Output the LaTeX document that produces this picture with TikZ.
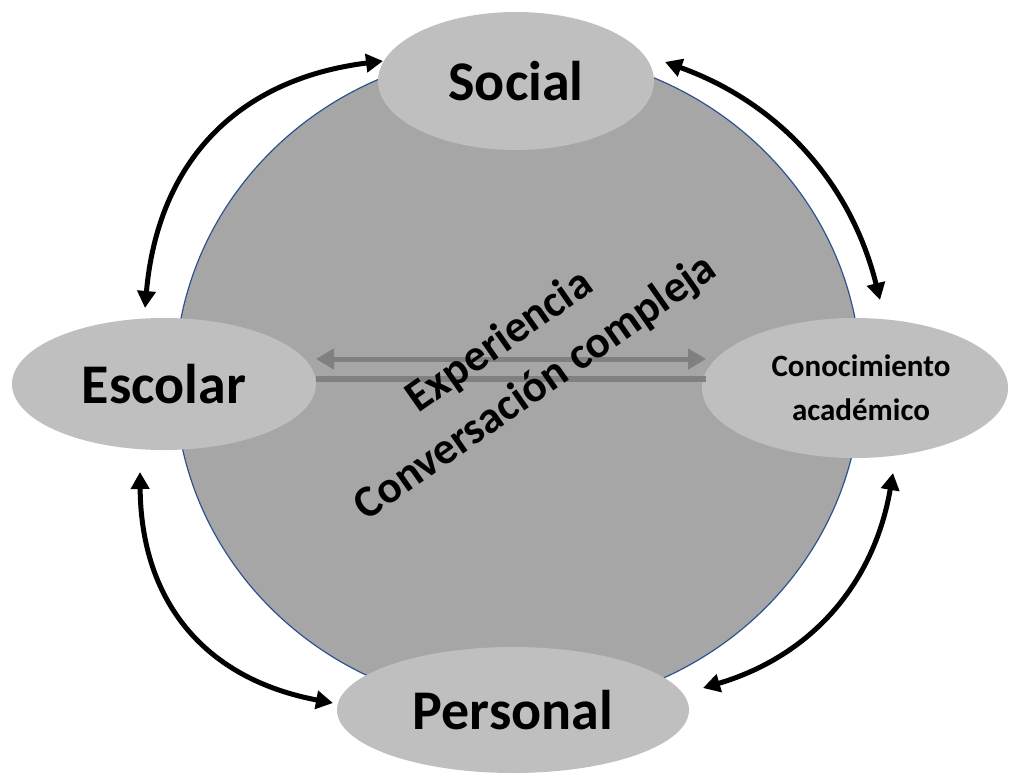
\documentclass[tikz,border=0pt]{standalone}
\usepackage{fontspec}
\setmainfont{Carlito}
\usetikzlibrary{arrows.meta,shapes.geometric}
\definecolor{hubfill}{RGB}{166,166,166}
\definecolor{hubline}{RGB}{47,82,143}
\definecolor{bubblefill}{RGB}{191,191,191}
\definecolor{linkgray}{RGB}{128,128,128}
\begin{document}
\begin{tikzpicture}[x=1pt,y=-1pt,
  bubble/.style={ellipse,fill=bubblefill,inner sep=0pt,align=center},
  bigtext/.style={font=\fontsize{56}{60}\selectfont\bfseries},
  smalltext/.style={font=\fontsize{31}{44}\selectfont\bfseries},
  diagtext/.style={font=\fontsize{45}{50}\selectfont\bfseries,rotate=35,anchor=base,inner sep=0pt},
  cycarrow/.style={line width=5pt,{Triangle[length=17pt,width=18pt]}-{Triangle[length=17pt,width=18pt]}},
  grayarrow/.style={draw=linkgray,line width=5pt,{Triangle[length=18pt,width=20pt]}-{Triangle[length=18pt,width=20pt]}},
  grayline/.style={draw=linkgray,line width=6pt}]
\useasboundingbox (0,0) rectangle (1011,773);
% central circle
\path[fill=hubfill,draw=hubline,line width=1.2pt] (518,380) ellipse [x radius=343,y radius=329];
% bubbles
\node[bubble,bigtext,minimum width=276pt,minimum height=138pt] (social) at (516,81) {Social};
\node[bubble,bigtext,minimum width=304pt,minimum height=132pt] (escolar) at (164,384) {Escolar};
\node[bubble,smalltext,minimum width=306pt,minimum height=140pt] (conoc) at (855,388) {\hspace*{12pt}Conocimiento\\\hspace*{12pt}académico};
\node[bubble,bigtext,minimum width=352pt,minimum height=126pt] (personal) at (513,710) {Personal};
% gray links
\coordinate (gA1) at (316,359);
\coordinate (gA2) at (706,359);
\coordinate (gB1) at (316,379);
\coordinate (gB2) at (706,379);
\draw[grayarrow] (gA1) -- (gA2);
\draw[grayline] (gB1) -- (gB2);
% diagonal texts
\node[diagtext] (exp) at (507,352) {Experiencia};
\node[diagtext] (conv) at (543,398) {Conversación compleja};
% cycle arrows
\coordinate (a1s) at (383,61);
\coordinate (a1e) at (145,308);
\coordinate (a2s) at (665,62);
\coordinate (a2e) at (880,300);
\coordinate (a3s) at (140,472);
\coordinate (a3e) at (333,703);
\coordinate (a4s) at (893,473);
\coordinate (a4e) at (703,688);
\draw[cycarrow] (a1s) .. controls (238,79) and (158,161) .. (a1e);
\draw[cycarrow] (a2s) .. controls (779,103) and (851,183) .. (a2e);
\draw[cycarrow] (a3s) .. controls (141,602) and (205,679) .. (a3e);
\draw[cycarrow] (a4s) .. controls (874,584) and (811,656) .. (a4e);
\end{tikzpicture}
\end{document}
